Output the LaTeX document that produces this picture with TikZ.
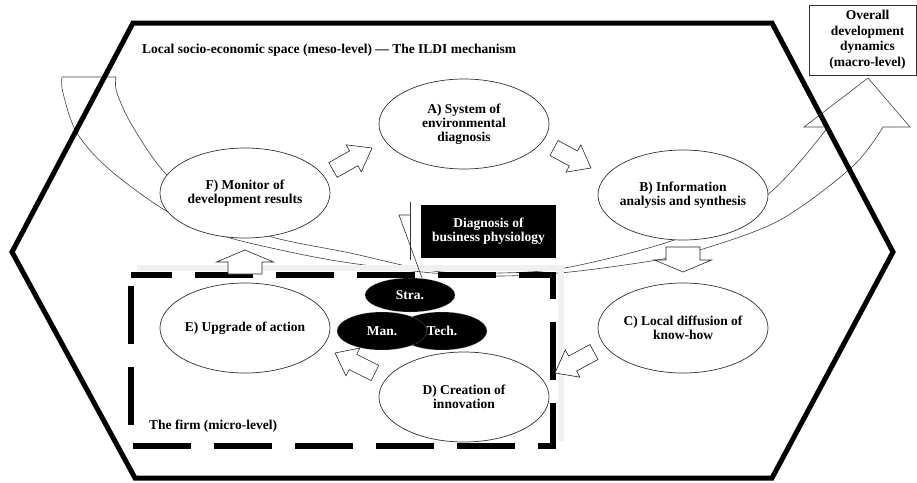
\documentclass[tikz,border=0pt]{standalone}
\usepackage{fontspec}
\setmainfont{Liberation Serif}
\usetikzlibrary{shapes.geometric,calc}
\tikzset{
  hexline/.style={line width=5pt, line join=miter},
  bigarrow/.style={draw=black!75, line width=0.6pt},
  ellnode/.style={ellipse, draw=black!80, fill=white, line width=0.7pt, minimum width=170pt, minimum height=90pt, inner sep=0pt},
  etext/.style={font=\fontsize{13.5}{14}\selectfont\bfseries, align=center, text=black, inner sep=0pt},
  blk/.style={ellipse, fill=black, draw=gray!70, densely dotted, line width=0.5pt, inner sep=0pt, minimum width=90pt, minimum height=36pt},
  wtext/.style={font=\fontsize{13.5}{14}\selectfont\bfseries, align=center, text=white, inner sep=0pt},
  smallarrow/.style={draw=black!85, fill=white, line width=0.6pt, line join=miter},
  firmline/.style={line width=6pt, dash pattern=on 58pt off 23pt, dash phase=17pt},
  shadowline/.style={gray!12, line width=6pt},
  plain/.style={font=\fontsize{13.5}{14}\selectfont\bfseries, inner sep=0pt},
  thinline/.style={draw=black!80, line width=0.6pt}
}
\newcommand{\blockarr}[5]{%
  \path ($(#2)!#5!(#1)$) coordinate (bah);
  \draw[smallarrow] ($(#1)!#3!90:(#2)$) -- ($(bah)!#3!90:(#2)$) -- ($(bah)!#4!90:(#2)$) -- (#2) -- ($(bah)!#4!-90:(#2)$) -- ($(bah)!#3!-90:(#2)$) -- ($(#1)!#3!-90:(#2)$) -- cycle;}
\begin{document}
\begin{tikzpicture}[x=1pt,y=-1pt]
\useasboundingbox (0,0) rectangle (917,482);
% big curved arrow
\draw[bigarrow] plot[smooth, tension=0.55] coordinates {(62,77) (63,93) (77,133) (110,170) (168,212) (220,235) (290,252) (350,263) (433,273) (500,276) (570,272) (657,260) (703,249) (780,220) (852,167) (883,127)}
  -- (910,127) -- (868,78) -- (804,127) -- (828,127)
  -- plot[smooth, tension=0.55] coordinates {(828,127) (767,195) (680,238) (570,267) (500,273) (433,271) (350,253) (272,237) (220,215) (167,175) (133,127) (117,93) (116,77)}
  -- cycle;
% hexagon
\draw[hexline] (133,23) -- (772,23) -- (893,252) -- (772,478) -- (135,478) -- (12,252) -- cycle;
% overall box
\node[draw=black!80, line width=0.6pt, minimum width=107pt, minimum height=70pt, inner sep=0pt, fill=white,
  label={[etext, font=\fontsize{13.5}{15.5}\selectfont\bfseries, xshift=5pt]center:{Overall\\development\\dynamics\\(macro-level)}}] (ov) at (862.5,40) {};
% title
\node[plain, anchor=west] (title) at (142,50) {Local socio-economic space (meso-level) --- The ILDI mechanism};
% firm box
\draw[shadowline] (137,268) -- (561,268) -- (561,441);
\draw[firmline] (131,275) -- (553,275) -- (553,446) -- (131,446) -- cycle;
\node[plain, anchor=west] (firm) at (149,426) {The firm (micro-level)};
% ellipses
\node[ellnode, label={[etext]center:{A) System of\\environmental\\diagnosis}}] (A) at (464,124) {};
\node[ellnode, label={[etext]center:{B) Information\\analysis and synthesis}}] (B) at (683,195) {};
\node[ellnode, label={[etext]center:{C) Local diffusion of\\know-how}}] (C) at (683,328) {};
\node[ellnode, label={[etext]center:{D) Creation of\\innovation}}] (D) at (464,397) {};
\node[ellnode, label={[etext]center:{E) Upgrade of action}}] (E) at (245,328) {};
\node[ellnode, label={[etext]center:{F) Monitor of\\development results}}] (F) at (245,193) {};
% diagnosis
\node[blk, minimum height=34pt, label={[wtext]center:{Stra.}}] (stra) at (410,295) {};
\node[blk, minimum height=38pt, label={[wtext]center:{Tech.}}] (tech) at (442,331) {};
\node[blk, minimum height=38pt, label={[wtext]center:{Man.}}] (man) at (382,331) {};
\node[fill=black, minimum width=135pt, minimum height=53pt, inner sep=0pt,
  label={[wtext]center:{Diagnosis of\\business physiology}}] (diag) at (488.5,231.5) {};
\coordinate (c1) at (410,202);
\coordinate (c2) at (410,260);
\coordinate (c3) at (410,215);
\coordinate (c4) at (399,215);
\coordinate (c5) at (422,278);
\draw[thinline] (c1) -- (c2);
\draw[thinline] (c3) -- (c4) -- (c5);
% small block arrows
\coordinate (fa1) at (333,170); \coordinate (fa2) at (372,148);
\coordinate (ab1) at (554,148); \coordinate (ab2) at (591,168);
\coordinate (bc1) at (683,247); \coordinate (bc2) at (683,272);
\coordinate (cd1) at (594,352); \coordinate (cd2) at (555,373);
\coordinate (de1) at (375,373); \coordinate (de2) at (335,353);
\coordinate (ef1) at (245,274); \coordinate (ef2) at (245,250);
\blockarr{fa1}{fa2}{8.5pt}{15.5pt}{21pt}
\blockarr{ab1}{ab2}{8.5pt}{15.5pt}{20pt}
\blockarr{bc1}{bc2}{17pt}{28.5pt}{12pt}
\blockarr{cd1}{cd2}{8.5pt}{15.5pt}{20pt}
\blockarr{de1}{de2}{8.5pt}{15.5pt}{20pt}
\blockarr{ef1}{ef2}{17pt}{28.5pt}{12pt}
\end{tikzpicture}
\end{document}
